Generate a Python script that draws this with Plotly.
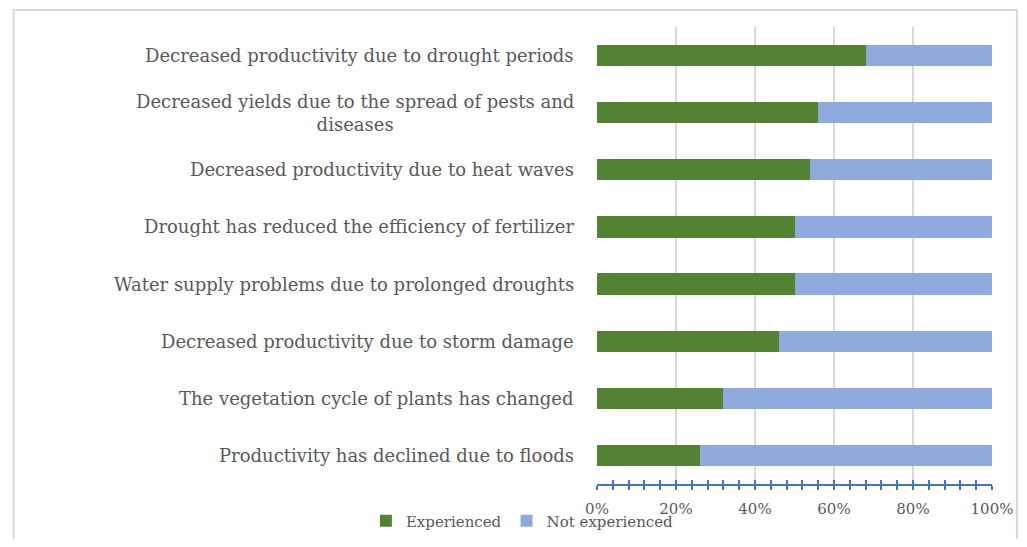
import plotly.graph_objects as go

categories = [
    "Productivity has declined due to floods",
    "The vegetation cycle of plants has changed",
    "Decreased productivity due to storm damage",
    "Water supply problems due to prolonged droughts",
    "Drought has reduced the efficiency of fertilizer",
    "Decreased productivity due to heat waves",
    "Decreased yields due to the spread of pests and<br>diseases",
    "Decreased productivity due to drought periods",
]
experienced = [0.26, 0.32, 0.46, 0.50, 0.50, 0.54, 0.56, 0.68]
not_experienced = [round(1 - v, 2) for v in experienced]
tick_vals = [0, 0.2, 0.4, 0.6, 0.8, 1.0]
tick_text = ["0%", "20%", "40%", "60%", "80%", "100%"]

GREEN = "#548235"
BLUE = "#8FAADC"
AXIS = "#4472C4"
TEXT = "#595959"
FONT = "DejaVu Serif"

fig = go.Figure()
fig.add_trace(go.Bar(y=categories, x=experienced, orientation="h", name="Experienced",
                     marker=dict(color=GREEN, line=dict(width=0)), width=0.37))
fig.add_trace(go.Bar(y=categories, x=not_experienced, orientation="h", name="Not experienced",
                     marker=dict(color=BLUE, line=dict(width=0)), width=0.37))
# invisible trace for the second x axis (crossing ticks)
fig.add_trace(go.Scatter(x=[0, 1], y=[categories[0], categories[0]], xaxis="x2",
                         mode="markers", marker=dict(opacity=0), showlegend=False, hoverinfo="skip"))

annotations = []
for c in categories:
    annotations.append(dict(x=-0.053, xref="x domain", y=c, yref="y", text=c,
                            showarrow=False, xanchor="right", yanchor="middle", align="center",
                            font=dict(family=FONT, size=18, color=TEXT)))

fig.update_layout(
    barmode="stack",
    width=1011, height=531,
    margin=dict(l=589, r=27, t=19, b=55, autoexpand=False),
    paper_bgcolor="white", plot_bgcolor="white",
    font=dict(family=FONT, color=TEXT),
    showlegend=True,
    legend=dict(orientation="h", xref="container", yref="container", x=0.354, xanchor="left",
                y=0.034, yanchor="middle",
                font=dict(family=FONT, size=15, color=TEXT), itemsizing="constant",
                bgcolor="rgba(0,0,0,0)", traceorder="normal"),
    xaxis=dict(range=[0, 1], tickvals=tick_vals, ticktext=tick_text, showgrid=True,
               gridcolor="#D9D9D9", gridwidth=1.5, zeroline=False, showline=True,
               linecolor=AXIS, linewidth=1.5, ticks="outside", ticklen=4, tickwidth=1.5,
               tickcolor=AXIS, ticklabelstandoff=6, automargin=False,
               tickfont=dict(family=FONT, size=15, color=TEXT),
               minor=dict(dtick=0.04, ticks="outside", ticklen=4, tickwidth=1.5,
                          tickcolor=AXIS, showgrid=False)),
    xaxis2=dict(range=[0, 1], overlaying="x", side="bottom", anchor="y", tickvals=tick_vals,
                showticklabels=False, showgrid=False, zeroline=False, showline=False,
                ticks="inside", ticklen=4, tickwidth=1.5, tickcolor=AXIS, automargin=False,
                minor=dict(dtick=0.04, ticks="inside", ticklen=4, tickwidth=1.5,
                           tickcolor=AXIS, showgrid=False)),
    yaxis=dict(categoryorder="array", categoryarray=categories, range=[-0.5, 7.5], automargin=False,
               showticklabels=False, showgrid=False, zeroline=False, showline=False, ticks=""),
    annotations=annotations,
    shapes=[dict(type="rect", xref="paper", yref="paper", x0=-1.477, x1=1.063, y0=-0.3, y1=1.037,
                 line=dict(color="#D9D9D9", width=2), layer="below")],
)

fig.write_html("out.html")
